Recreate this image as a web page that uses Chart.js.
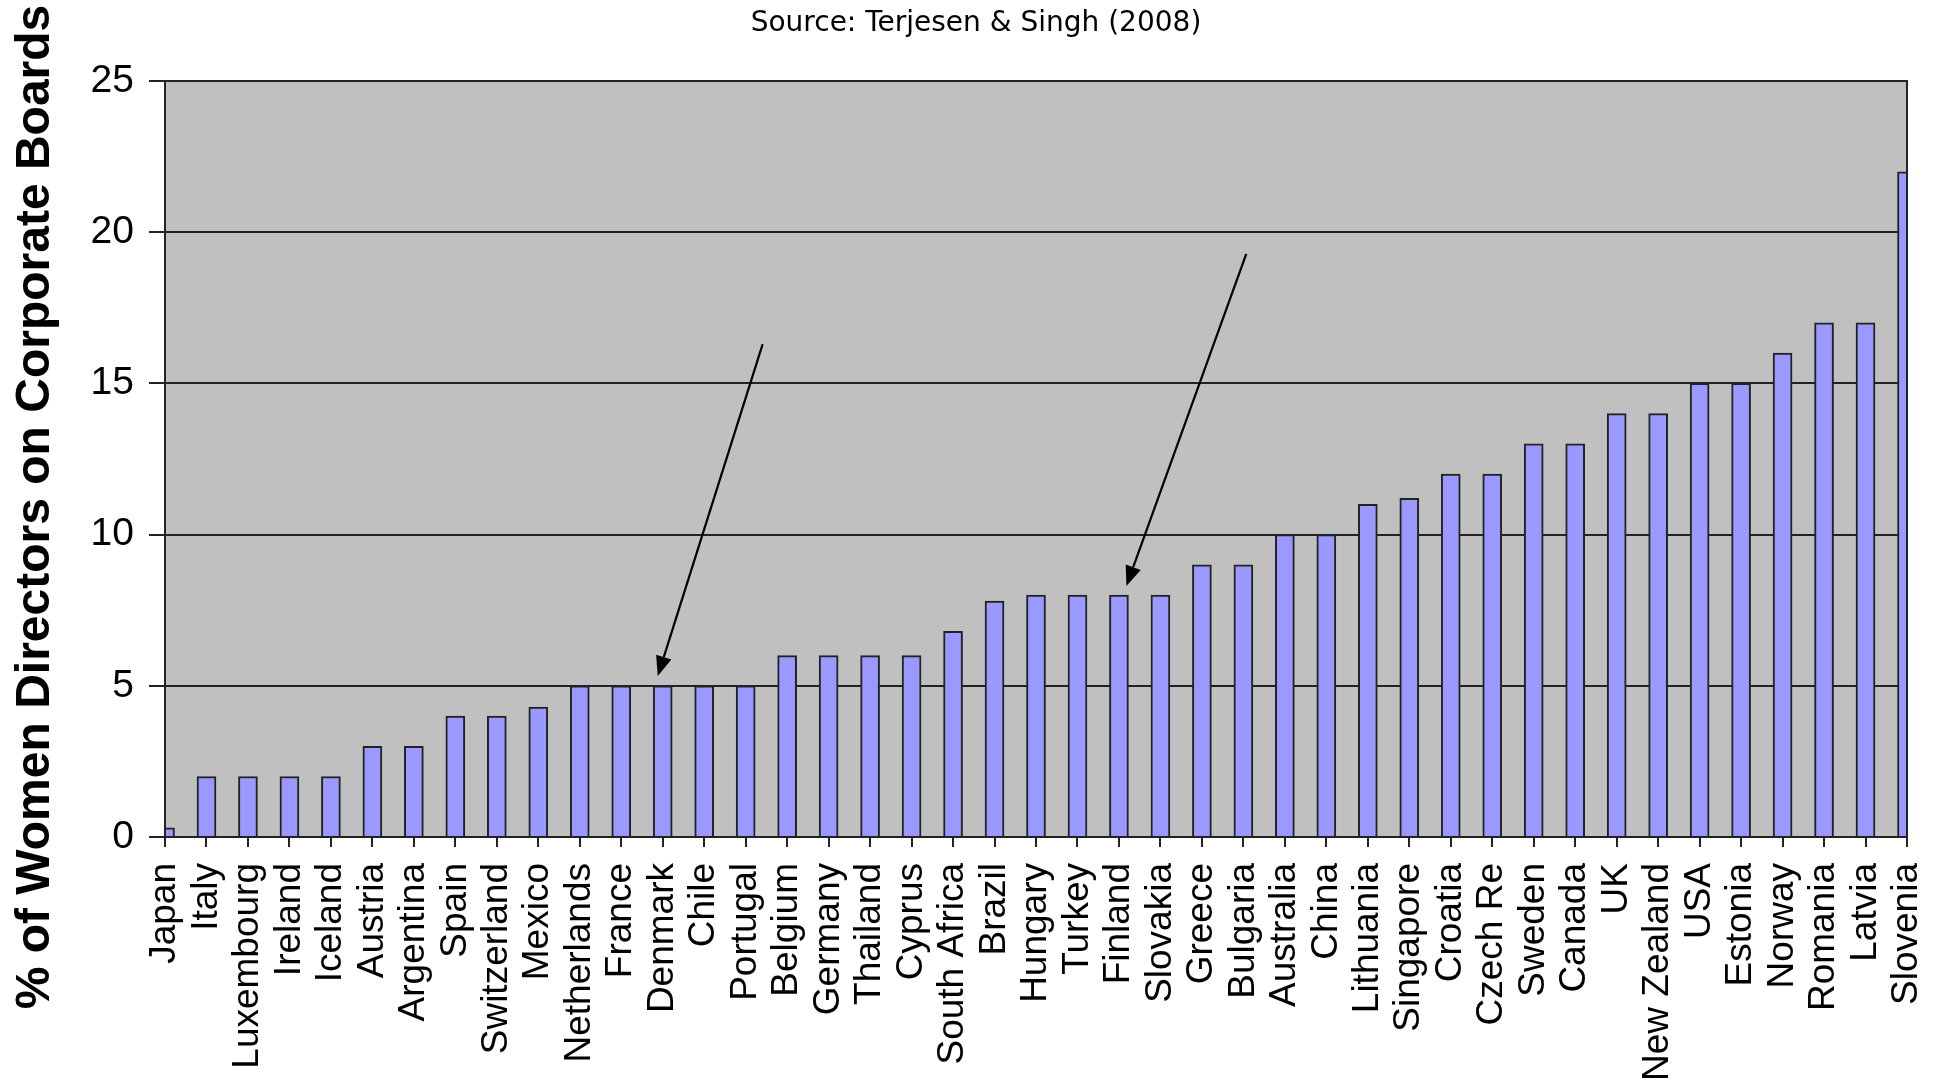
<!DOCTYPE html>
<html>
<head>
<meta charset="utf-8">
<script src="https://cdn.jsdelivr.net/npm/chart.js@4/dist/chart.umd.min.js"></script>
<style>
  html, body { margin: 0; padding: 0; background: #ffffff; }
  #wrap { width: 1933px; height: 1088px; }
</style>
</head>
<body>
<div id="wrap"><canvas id="c" width="1933" height="1088"></canvas></div>
<script>
// Countries in ascending order of board representation
const countries = [
  'Japan', 'Italy', 'Luxembourg', 'Ireland', 'Iceland', 'Austria', 'Argentina',
  'Spain', 'Switzerland', 'Mexico', 'Netherlands', 'France', 'Denmark', 'Chile',
  'Portugal', 'Belgium', 'Germany', 'Thailand', 'Cyprus', 'South Africa', 'Brazil',
  'Hungary', 'Turkey', 'Finland', 'Slovakia', 'Greece', 'Bulgaria', 'Australia',
  'China', 'Lithuania', 'Singapore', 'Croatia', 'Czech Re', 'Sweden', 'Canada',
  'UK', 'New Zealand', 'USA', 'Estonia', 'Norway', 'Romania', 'Latvia', 'Slovenia'
];

// Share of women directors (%)
const womenDirectorsPct = [
  0.3, 2, 2, 2, 2, 3, 3,
  4, 4, 4.3, 5, 5, 5, 5,
  5, 6, 6, 6, 6, 6.8, 7.8,
  8, 8, 8, 8, 9, 9, 10,
  10, 11, 11.2, 12, 12, 13, 13,
  14, 14, 15, 15, 16, 17, 17, 22
];

const yTickStep = 5;
const yMax = 25;

const sourceTitle = 'Source: Terjesen & Singh (2008)';
const yAxisTitle = '% of Women Directors on Corporate Boards';

// Pointer arrows, in data units: [fromIndex, fromValue, toIndex, toValue]
const arrowNotes = [
  [14.41, 16.30, 11.88, 5.32],
  [26.07, 19.28, 23.18, 8.30]
];

const INK = '#222222';

// Grey plot background
const plotBackground = {
  id: 'plotBackground',
  beforeDraw(chart) {
    const { ctx, chartArea: a } = chart;
    ctx.save();
    ctx.fillStyle = '#c0c0c0';
    ctx.fillRect(a.left, a.top, a.right - a.left, a.bottom - a.top);
    ctx.restore();
  }
};

// Plot frame, arrows, source line and the rotated value-axis title
const overlay = {
  id: 'overlay',
  afterDraw(chart) {
    const { ctx, chartArea: a, scales } = chart;
    ctx.save();
    ctx.strokeStyle = INK;
    ctx.lineWidth = 2;
    ctx.strokeRect(a.left, a.top, a.right - a.left, a.bottom - a.top);

    ctx.fillStyle = '#000';
    ctx.strokeStyle = '#000';
    ctx.lineWidth = 2.2;
    arrowNotes.forEach(([fi, fv, ti, tv]) => {
      const x0 = scales.x.getPixelForValue(fi), y0 = scales.y.getPixelForValue(fv);
      const x1 = scales.x.getPixelForValue(ti), y1 = scales.y.getPixelForValue(tv);
      const ang = Math.atan2(y1 - y0, x1 - x0);
      const headLen = 20, headHalf = 8;
      const bx = x1 - headLen * Math.cos(ang), by = y1 - headLen * Math.sin(ang);
      ctx.beginPath();
      ctx.moveTo(x0, y0);
      ctx.lineTo(bx, by);
      ctx.stroke();
      ctx.beginPath();
      ctx.moveTo(x1, y1);
      ctx.lineTo(bx + headHalf * Math.sin(ang), by - headHalf * Math.cos(ang));
      ctx.lineTo(bx - headHalf * Math.sin(ang), by + headHalf * Math.cos(ang));
      ctx.closePath();
      ctx.fill();
    });

    // source line above the plot
    ctx.font = '28px "DejaVu Sans", sans-serif';
    ctx.textAlign = 'center';
    ctx.textBaseline = 'middle';
    ctx.fillText(sourceTitle, 976, 24);

    ctx.translate(36, 507);
    ctx.rotate(-Math.PI / 2);
    ctx.font = 'bold 48px "Liberation Sans", Arial, sans-serif';
    ctx.fillText(yAxisTitle, 0, 0);
    ctx.restore();
  }
};

new Chart(document.getElementById('c'), {
  type: 'bar',
  data: {
    labels: countries,
    datasets: [{
      data: womenDirectorsPct,
      backgroundColor: '#9999ff',
      borderColor: INK,
      borderWidth: 2,
      borderSkipped: 'start',
      barThickness: 19,
      clip: 0
    }]
  },
  options: {
    responsive: false,
    animation: false,
    devicePixelRatio: 1,
    layout: { padding: { left: 0, right: 26, top: 81, bottom: 0 } },
    plugins: {
      legend: { display: false },
      tooltip: { enabled: false },
      title: { display: false }
    },
    scales: {
      x: {
        type: 'category',
        offset: false,
        border: { display: false },
        grid: {
          display: true,
          offset: false,
          drawOnChartArea: false,
          drawTicks: true,
          tickLength: 10,
          color: INK,
          lineWidth: 2
        },
        ticks: {
          autoSkip: false,
          maxRotation: 90,
          minRotation: 90,
          padding: 16,
          color: '#000',
          font: { family: '"Liberation Sans", Arial, sans-serif', size: 37 }
        },
        afterFit(scale) {
          scale.height = 251;
          scale.paddingLeft = 0;
          scale.paddingRight = 0;
        }
      },
      y: {
        min: 0,
        max: yMax,
        border: { display: false },
        grid: {
          color: INK,
          lineWidth: 2,
          tickLength: 16
        },
        ticks: {
          stepSize: yTickStep,
          padding: 15,
          color: '#000',
          font: { family: '"Liberation Sans", Arial, sans-serif', size: 39 }
        },
        afterFit(scale) {
          scale.width = 165;
          scale.paddingTop = 0;
          scale.paddingBottom = 0;
        }
      }
    }
  },
  plugins: [plotBackground, overlay]
});
</script>
</body>
</html>
